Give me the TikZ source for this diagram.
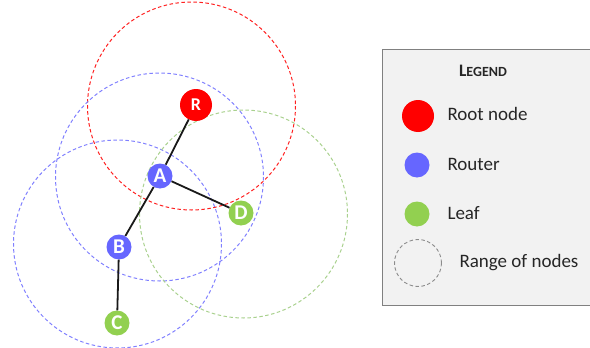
\documentclass[tikz,border=0pt]{standalone}
\usepackage{fontspec}
\setmainfont{Carlito}
\begin{document}
\begin{tikzpicture}[x=1pt,y=-1pt,
  rootc/.style={circle,fill=red,minimum size=32pt,inner sep=0pt,text=white,font=\fontsize{18}{18}\selectfont\bfseries},
  routerc/.style={circle,fill=routerblue,minimum size=25pt,inner sep=0pt,text=white,font=\fontsize{21}{21}\selectfont\bfseries},
  leafc/.style={circle,fill=leafgreen,minimum size=25pt,inner sep=0pt,text=white,font=\fontsize{21}{21}\selectfont\bfseries},
  rangec/.style={dashed,line width=1pt,dash pattern=on 3.5pt off 2.5pt},
  link/.style={line width=1.8pt,black!90},
  legtext/.style={anchor=west,font=\fontsize{19}{19}\selectfont,text=black!85}]
\definecolor{routerblue}{HTML}{6666FF}
\definecolor{leafgreen}{HTML}{92D050}
\definecolor{rangeblue}{HTML}{8080FF}
\definecolor{rangegreen}{HTML}{A9D18E}
\definecolor{rangered}{HTML}{FF2020}
\definecolor{legfill}{HTML}{F2F2F2}
\useasboundingbox (0,0) rectangle (590,348);
\begin{scope}
\clip (0,0) rectangle (590,348);
% ranges
\draw[rangec,rangered] (191.5,106) circle (104);
\draw[rangec,rangeblue] (159.5,177) circle (104);
\draw[rangec,rangeblue] (117.5,244) circle (104);
\draw[rangec,rangegreen] (243.5,214) circle (104);
% nodes
\node[rootc] (R) at (196,105) {R};
\node[routerc] (A) at (160,176) {A};
\node[leafc] (D) at (241,213) {D};
\node[routerc] (B) at (119,247) {B};
\node[leafc] (C) at (117,323) {C};
\draw[link] (R) -- (A);
\draw[link] (A) -- (D);
\draw[link] (A) -- (B);
\draw[link] (B) -- (C);
% legend
\node[draw=black!50,line width=1pt,fill=legfill,minimum width=220pt,minimum height=256pt,anchor=north west,inner sep=0pt] (box) at (382,49) {};
\node[font=\bfseries,text=black!85] (title) at (483,71) {\fontsize{17.5}{17.5}\selectfont L\fontsize{14}{14}\selectfont EGEND};
\node[circle,fill=red,minimum size=32pt,inner sep=0pt] (lr) at (418,116) {};
\node[legtext] (tr) at (444,114) {Root node};
\node[circle,fill=routerblue,minimum size=25pt,inner sep=0pt] (lb) at (417,165) {};
\node[legtext] (tb) at (444,164) {Router};
\node[circle,fill=leafgreen,minimum size=25pt,inner sep=0pt] (lg) at (417,214) {};
\node[legtext] (tg) at (444,213) {Leaf};
\node[circle,draw=black!45,rangec,line width=0.9pt,minimum size=47pt,inner sep=0pt] (lc) at (418,263) {};
\node[legtext] (tc) at (456,263) {Range of nodes};
\end{scope}
\end{tikzpicture}
\end{document}
